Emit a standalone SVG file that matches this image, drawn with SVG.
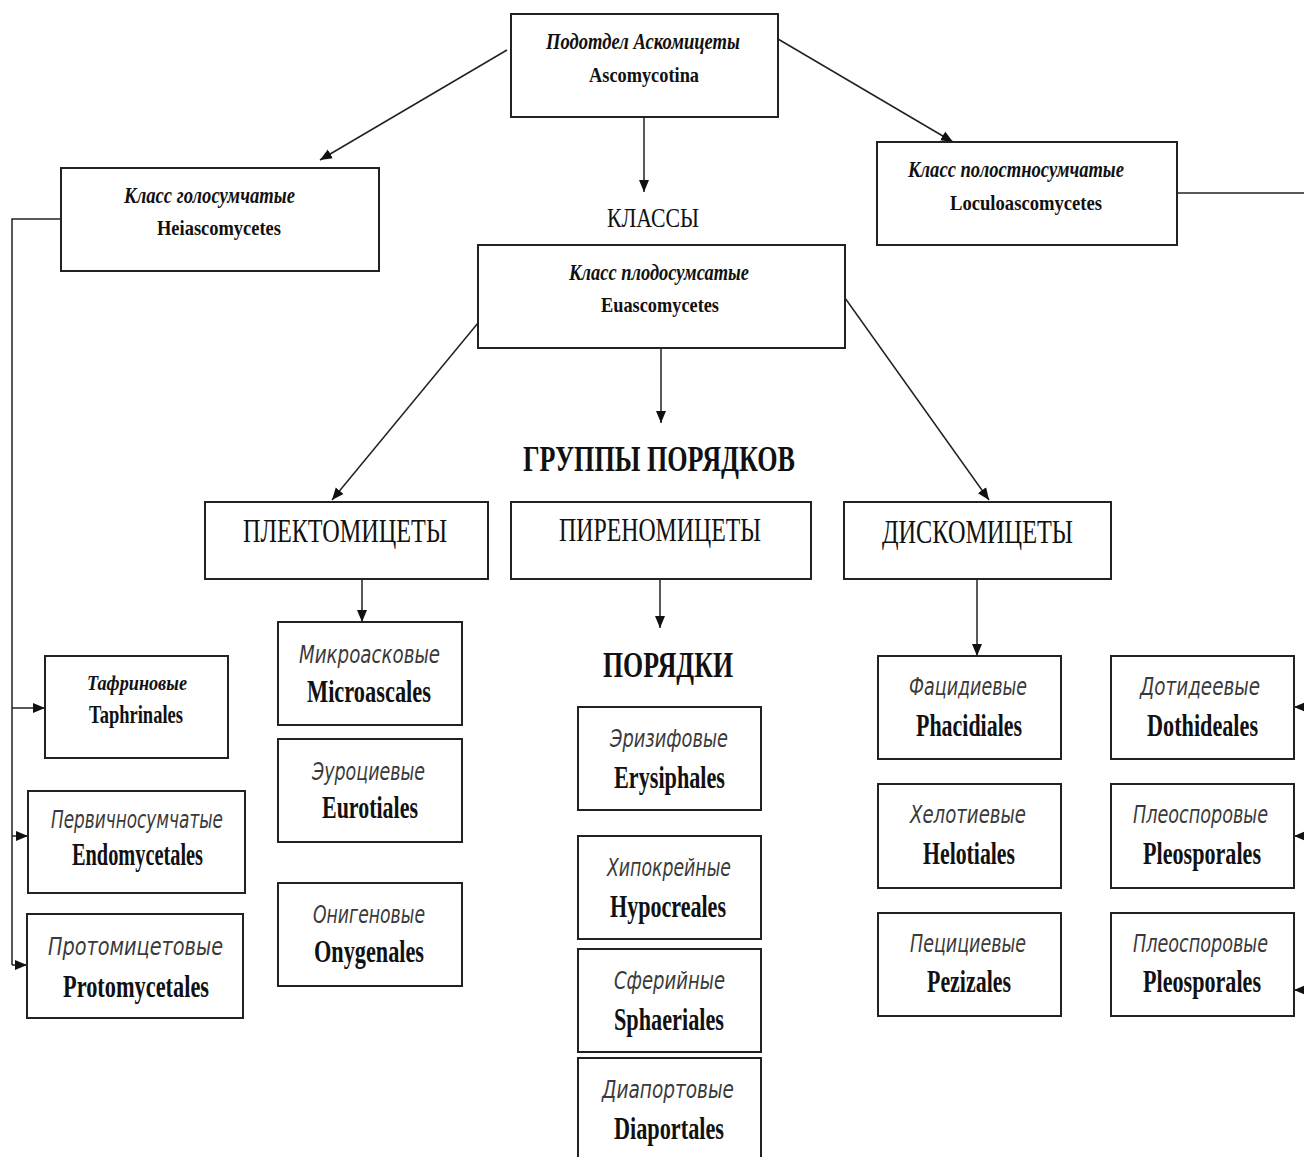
<svg xmlns="http://www.w3.org/2000/svg" width="1304" height="1157" viewBox="0 0 1304 1157">
<style>
.box{fill:#fff;stroke:#222;stroke-width:2}
.ln{fill:none;stroke:#222;stroke-width:1.5}
.arr{marker-end:url(#ah)}
text{font-family:"Liberation Serif","Times New Roman",serif;fill:#111}
.cls{font-style:italic;font-weight:bold;font-size:23px}
.lat{font-weight:bold;font-size:22px}
.head{font-size:28px}
.headb{font-weight:bold;font-size:36px}
.grp{font-size:34px}
.ru{font-family:"DejaVu Sans","Noto Sans",sans-serif;font-style:italic;font-size:25px;fill:#3a3a3a}
.la{font-weight:bold;font-size:31px}
.tru{font-style:italic;font-weight:bold;font-size:22px}
.tla{font-weight:bold;font-size:25px}
.mid{text-anchor:middle}
</style>
<defs>
<marker id="ah" markerUnits="userSpaceOnUse" markerWidth="13" markerHeight="13" viewBox="0 0 13 13" refX="12" refY="6.5" orient="auto">
<path d="M0,1.5 L12,6.5 L0,11.5 Z" fill="#111"/>
</marker>
</defs>
<rect width="1304" height="1157" fill="#fff"/>

<g id="connectors">
<path class="ln arr" d="M507,50 L320,160"/>
<path class="ln arr" d="M778,39 L953,142"/>
<path class="ln arr" d="M644,117 L644,192"/>
<path class="ln" d="M61,219 H12 V965"/>
<path class="ln arr" d="M12,708 H45"/>
<path class="ln arr" d="M12,836 H28"/>
<path class="ln arr" d="M12,965 H27"/>
<path class="ln" d="M1177,193 H1304"/>
<path class="ln arr" d="M1308,707 H1294"/>
<path class="ln arr" d="M1308,836 H1294"/>
<path class="ln arr" d="M1308,990 H1294"/>
<path class="ln arr" d="M478,323 L332,500"/>
<path class="ln arr" d="M661,348 L661,423"/>
<path class="ln arr" d="M845,298 L989,500"/>
<path class="ln arr" d="M362,579 L362,622"/>
<path class="ln arr" d="M660,579 L660,628"/>
<path class="ln arr" d="M977,579 L977,656"/>
</g>

<g id="ascomycotina">
<rect class="box" x="511" y="14" width="267" height="103"/>
<text class="cls" x="546" y="49" textLength="194" lengthAdjust="spacingAndGlyphs">Подотдел Аскомицеты</text>
<text class="lat" x="589" y="82" textLength="110" lengthAdjust="spacingAndGlyphs">Ascomycotina</text>
</g>

<g id="heiascomycetes">
<rect class="box" x="61" y="168" width="318" height="103"/>
<text class="cls" x="124" y="203" textLength="171" lengthAdjust="spacingAndGlyphs">Класс голосумчатые</text>
<text class="lat" x="157" y="235" textLength="124" lengthAdjust="spacingAndGlyphs">Heiascomycetes</text>
</g>

<g id="loculoascomycetes">
<rect class="box" x="877" y="142" width="300" height="103"/>
<text class="cls" x="908" y="177" textLength="216" lengthAdjust="spacingAndGlyphs">Класс полостносумчатые</text>
<text class="lat" x="950" y="210" textLength="152" lengthAdjust="spacingAndGlyphs">Loculoascomycetes</text>
</g>

<g id="klassy">
<text class="head" x="607" y="227" textLength="92" lengthAdjust="spacingAndGlyphs">КЛАССЫ</text>
</g>

<g id="euascomycetes">
<rect class="box" x="478" y="245" width="367" height="103"/>
<text class="cls" x="569" y="280" textLength="180" lengthAdjust="spacingAndGlyphs">Класс плодосумсатые</text>
<text class="lat" x="601" y="312" textLength="118" lengthAdjust="spacingAndGlyphs">Euascomycetes</text>
</g>

<g id="gruppy">
<text class="headb" x="523" y="471" textLength="272" lengthAdjust="spacingAndGlyphs">ГРУППЫ ПОРЯДКОВ</text>
</g>

<g id="plectomycetes">
<rect class="box" x="205" y="502" width="283" height="77"/>
<text class="grp" x="243" y="542" textLength="204" lengthAdjust="spacingAndGlyphs">ПЛЕКТОМИЦЕТЫ</text>
</g>
<g id="pyrenomycetes">
<rect class="box" x="511" y="502" width="300" height="77"/>
<text class="grp" x="559" y="541" textLength="202" lengthAdjust="spacingAndGlyphs">ПИРЕНОМИЦЕТЫ</text>
</g>
<g id="discomycetes">
<rect class="box" x="844" y="502" width="267" height="77"/>
<text class="grp" x="882" y="543" textLength="191" lengthAdjust="spacingAndGlyphs">ДИСКОМИЦЕТЫ</text>
</g>

<g id="poryadki">
<text class="headb" x="603" y="677" textLength="130" lengthAdjust="spacingAndGlyphs">ПОРЯДКИ</text>
</g>

<g id="taphrinales">
<rect class="box" x="45" y="656" width="183" height="102"/>
<text class="tru" x="87" y="690" textLength="100" lengthAdjust="spacingAndGlyphs">Тафриновые</text>
<text class="tla" x="89" y="723" textLength="94" lengthAdjust="spacingAndGlyphs">Taphrinales</text>
</g>
<g id="endomycetales">
<rect class="box" x="28" y="791" width="217" height="102"/>
<text class="ru" x="51" y="828" textLength="172" lengthAdjust="spacingAndGlyphs">Первичносумчатые</text>
<text class="la" x="72" y="865" textLength="131" lengthAdjust="spacingAndGlyphs">Endomycetales</text>
</g>
<g id="protomycetales">
<rect class="box" x="27" y="914" width="216" height="104"/>
<text class="ru" x="48" y="955" textLength="175" lengthAdjust="spacingAndGlyphs">Протомицетовые</text>
<text class="la" x="63" y="997" textLength="146" lengthAdjust="spacingAndGlyphs">Protomycetales</text>
</g>

<g id="microascales">
<rect class="box" x="278" y="622" width="184" height="103"/>
<text class="ru" x="299" y="663" textLength="141" lengthAdjust="spacingAndGlyphs">Микроасковые</text>
<text class="la" x="307" y="702" textLength="124" lengthAdjust="spacingAndGlyphs">Microascales</text>
</g>
<g id="eurotiales">
<rect class="box" x="278" y="739" width="184" height="103"/>
<text class="ru" x="312" y="780" textLength="113" lengthAdjust="spacingAndGlyphs">Эуроциевые</text>
<text class="la" x="322" y="818" textLength="96" lengthAdjust="spacingAndGlyphs">Eurotiales</text>
</g>
<g id="onygenales">
<rect class="box" x="278" y="883" width="184" height="103"/>
<text class="ru" x="313" y="923" textLength="112" lengthAdjust="spacingAndGlyphs">Онигеновые</text>
<text class="la" x="314" y="962" textLength="110" lengthAdjust="spacingAndGlyphs">Onygenales</text>
</g>

<g id="erysiphales">
<rect class="box" x="578" y="707" width="183" height="103"/>
<text class="ru" x="610" y="747" textLength="118" lengthAdjust="spacingAndGlyphs">Эризифовые</text>
<text class="la" x="614" y="788" textLength="111" lengthAdjust="spacingAndGlyphs">Erysiphales</text>
</g>
<g id="hypocreales">
<rect class="box" x="578" y="836" width="183" height="103"/>
<text class="ru" x="607" y="876" textLength="124" lengthAdjust="spacingAndGlyphs">Хипокрейные</text>
<text class="la" x="610" y="917" textLength="116" lengthAdjust="spacingAndGlyphs">Hypocreales</text>
</g>
<g id="sphaeriales">
<rect class="box" x="578" y="949" width="183" height="103"/>
<text class="ru" x="614" y="989" textLength="111" lengthAdjust="spacingAndGlyphs">Сферийные</text>
<text class="la" x="614" y="1030" textLength="110" lengthAdjust="spacingAndGlyphs">Sphaeriales</text>
</g>
<g id="diaportales">
<rect class="box" x="578" y="1058" width="183" height="110"/>
<text class="ru" x="602" y="1098" textLength="132" lengthAdjust="spacingAndGlyphs">Диапортовые</text>
<text class="la" x="614" y="1139" textLength="110" lengthAdjust="spacingAndGlyphs">Diaportales</text>
</g>

<g id="phacidiales">
<rect class="box" x="878" y="656" width="183" height="103"/>
<text class="ru" x="909" y="695" textLength="118" lengthAdjust="spacingAndGlyphs">Фацидиевые</text>
<text class="la" x="916" y="736" textLength="106" lengthAdjust="spacingAndGlyphs">Phacidiales</text>
</g>
<g id="helotiales">
<rect class="box" x="878" y="784" width="183" height="104"/>
<text class="ru" x="910" y="823" textLength="116" lengthAdjust="spacingAndGlyphs">Хелотиевые</text>
<text class="la" x="923" y="864" textLength="92" lengthAdjust="spacingAndGlyphs">Helotiales</text>
</g>
<g id="pezizales">
<rect class="box" x="878" y="913" width="183" height="103"/>
<text class="ru" x="910" y="952" textLength="116" lengthAdjust="spacingAndGlyphs">Пецициевые</text>
<text class="la" x="927" y="992" textLength="84" lengthAdjust="spacingAndGlyphs">Pezizales</text>
</g>

<g id="dothideales">
<rect class="box" x="1111" y="656" width="183" height="103"/>
<text class="ru" transform="translate(1140,695) scale(0.72,1)" textLength="166.7" lengthAdjust="spacingAndGlyphs">Дотидеевые</text>
<text class="la" transform="translate(1147,736) scale(0.72,1)" textLength="154.2" lengthAdjust="spacingAndGlyphs">Dothideales</text>
</g>
<g id="pleosporales1">
<rect class="box" x="1111" y="784" width="183" height="104"/>
<text class="ru" transform="translate(1133,823) scale(0.72,1)" textLength="187.5" lengthAdjust="spacingAndGlyphs">Плеоспоровые</text>
<text class="la" transform="translate(1143,864) scale(0.72,1)" textLength="163.9" lengthAdjust="spacingAndGlyphs">Pleosporales</text>
</g>
<g id="pleosporales2">
<rect class="box" x="1111" y="913" width="183" height="103"/>
<text class="ru" transform="translate(1133,952) scale(0.72,1)" textLength="187.5" lengthAdjust="spacingAndGlyphs">Плеоспоровые</text>
<text class="la" transform="translate(1143,992) scale(0.72,1)" textLength="163.9" lengthAdjust="spacingAndGlyphs">Pleosporales</text>
</g>
</svg>
